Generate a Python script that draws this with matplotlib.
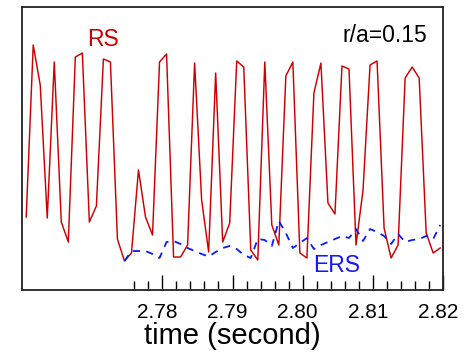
import matplotlib
matplotlib.use("Agg")
import matplotlib.pyplot as plt
import matplotlib.transforms as mtransforms
from matplotlib.ticker import FixedLocator, NullFormatter

plt.rcParams['font.family'] = ['Liberation Sans', 'DejaVu Sans']

# sample times (second)
time = [2.7606, 2.7616, 2.7626, 2.7636, 2.7646, 2.7656, 2.7666, 2.7676, 2.7686, 2.7696,
        2.7706, 2.7716, 2.7726, 2.7736, 2.7746, 2.7756, 2.7766, 2.7776, 2.7786, 2.7796,
        2.7806, 2.7816, 2.7826, 2.7836, 2.7846, 2.7856, 2.7866, 2.7876, 2.7886, 2.7896,
        2.7906, 2.7916, 2.7926, 2.7936, 2.7946, 2.7956, 2.7966, 2.7976, 2.7986, 2.7996,
        2.8006, 2.8016, 2.8026, 2.8036, 2.8046, 2.8056, 2.8066, 2.8076, 2.8086, 2.8096,
        2.8106, 2.8116, 2.8126, 2.8136, 2.8146, 2.8156, 2.8166, 2.8176, 2.8186, 2.8196]

# RS signal (arb. units)
rs = [0.73, 2.45, 2.05, 0.72, 2.28, 0.68, 0.48, 2.33, 2.37, 0.68,
      0.84, 2.31, 2.28, 0.51, 0.29, 0.37, 1.20, 0.73, 0.55, 2.28,
      2.36, 0.33, 0.33, 0.45, 2.27, 0.90, 0.38, 2.17, 0.48, 0.67,
      2.29, 2.23, 0.40, 0.30, 2.28, 0.65, 0.45, 2.14, 2.28, 0.37,
      0.32, 1.97, 2.27, 0.87, 0.76, 2.24, 2.21, 0.45, 1.00, 2.25,
      2.29, 0.62, 0.32, 0.45, 2.12, 2.23, 2.12, 0.57, 0.37, 0.42]

# ERS signal (arb. units), starts at t = 2.7746
ers_time = time[14:]
ers = [0.29, 0.39, 0.39, 0.39, 0.36, 0.32, 0.48, 0.49, 0.46, 0.42,
       0.39, 0.36, 0.335, 0.38, 0.42, 0.44, 0.41, 0.35, 0.32, 0.51,
       0.50, 0.44, 0.69, 0.57, 0.42, 0.47, 0.52, 0.41, 0.45, 0.48,
       0.51, 0.54, 0.52, 0.61, 0.49, 0.61, 0.58, 0.54, 0.46, 0.56,
       0.48, 0.50, 0.51, 0.54, 0.51, 0.65]

major_ticks = [2.78, 2.79, 2.80, 2.81, 2.82]
minor_ticks = [2.776, 2.778, 2.782, 2.784, 2.786, 2.788, 2.792, 2.794, 2.796, 2.798,
               2.802, 2.804, 2.806, 2.808, 2.812, 2.814, 2.816, 2.818]

fig = plt.figure(figsize=(4.7, 3.52), dpi=100, facecolor='w')
ax = fig.add_axes([0.0468, 0.1761, 0.8958, 0.804])

ax.plot(time, rs, color='#cc0000', lw=1.05)
ax.plot(ers_time, ers, color='#0a1aff', lw=1.3, ls=(0, (4, 3.5)))

ax.set_xlim(2.760, 2.820)
ax.set_ylim(0, 2.83)

ax.xaxis.set_major_locator(FixedLocator(major_ticks))
ax.xaxis.set_minor_locator(FixedLocator(minor_ticks))
ax.xaxis.set_minor_formatter(NullFormatter())
ax.set_xticklabels(['%.2f' % v for v in major_ticks])
ax.tick_params(axis='x', which='major', direction='in', length=11, width=1.0,
               labelsize=15, pad=9, top=False)
ax.tick_params(axis='x', which='minor', direction='in', length=6.5, width=1.0, top=False)
ax.set_yticks([])

# shift tick labels slightly to the left like the original
offset = mtransforms.ScaledTranslation(-5 / 100, 0, fig.dpi_scale_trans)
for lab in ax.get_xticklabels():
    lab.set_transform(lab.get_transform() + offset)

ax.set_xlabel('time (second)', fontsize=21, labelpad=0)

for spine in ax.spines.values():
    spine.set_linewidth(1.3)
    spine.set_color('#222222')

ax.text(2.7716, 2.51, 'RS', color='#cc0000', fontsize=16.5, ha='center', va='center')
ax.text(2.8049, 0.25, 'ERS', color='#1515ff', fontsize=16.5, ha='center', va='center')
ax.text(2.8117, 2.55, 'r/a=0.15', color='black', fontsize=16.5, ha='center', va='center')

plt.savefig('out.png', dpi=100)
